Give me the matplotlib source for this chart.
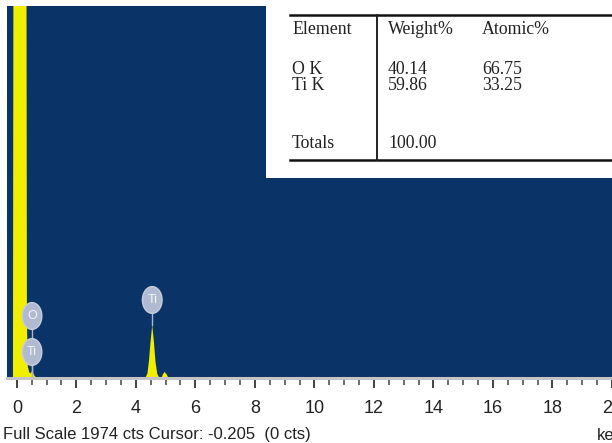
import matplotlib
matplotlib.use("Agg")
import matplotlib.pyplot as plt
from matplotlib.ticker import MultipleLocator
from matplotlib.patches import Ellipse

# EDS spectrum outline (energy in keV, counts)
energy_kev = [-0.33, -0.13, -0.11, 0.32, 0.34, 0.37, 0.42, 0.47, 0.52, 0.58, 0.66,
              4.32, 4.39, 4.44, 4.49, 4.55, 4.61, 4.66, 4.72, 4.79,
              4.86, 4.91, 4.97, 5.03, 5.10, 19.98]
counts = [0, 0, 2700, 2700, 300, 60, 30, 25, 40, 15, 0,
          0, 25, 90, 185, 281, 185, 85, 22, 0,
          0, 20, 32, 20, 0, 0]

full_scale = 1974
x_ticks = [0, 2, 4, 6, 8, 10, 12, 14, 16, 18, 20]

# Peak identification markers: (label, energy keV, marker height in counts, peak top)
marker_labels = ["O", "Ti", "Ti"]
marker_energy = [0.51, 0.51, 4.55]
marker_height = [329, 138, 414]
marker_floor = [0, 0, 281]

# Quantification table
elements = ["O K", "Ti K"]
weight_pct = ["40.14", "59.86"]
atomic_pct = ["66.75", "33.25"]
total_weight = "100.00"

W, H = 612, 443
fig = plt.figure(figsize=(W / 100, H / 100), dpi=100)
fig.patch.set_facecolor("white")

ax = fig.add_axes([7 / W, 65 / H, 605 / W, 372 / H])
ax.set_facecolor("#0a3468")
ax.set_xlim(-0.33, 19.98)
ax.set_ylim(0, full_scale)
ax.fill_between(energy_kev, counts, 0, color="#f2ee00", lw=0, zorder=2)

# marker bubbles with stems
bw, bh = 0.66, 142
for lab, e, hgt, fl in zip(marker_labels, marker_energy, marker_height, marker_floor):
    ax.plot([e, e], [fl, hgt - bh / 2], color="#aab6cc", lw=1.0, zorder=3)
    ax.add_patch(Ellipse((e, hgt), bw, bh, facecolor="#b0bbd1", edgecolor="#c6cedd",
                         lw=1.0, zorder=4))
    ax.text(e, hgt, lab, ha="center", va="center", fontsize=9, color="#f2f5fa",
            family="Liberation Sans", zorder=5)

for side in ("left", "right", "top"):
    ax.spines[side].set_visible(False)
ax.spines["bottom"].set_color("#c4c4c4")
ax.spines["bottom"].set_linewidth(2.2)
ax.set_yticks([])
ax.set_xticks(x_ticks)
ax.xaxis.set_minor_locator(MultipleLocator(0.5))
ax.tick_params(axis="x", which="major", direction="out", length=7, width=1.3,
               color="#333333", pad=9, labelsize=13, labelcolor="#222222")
ax.tick_params(axis="x", which="minor", direction="out", length=5, width=1.1,
               color="#444444")
for t in ax.get_xticklabels():
    t.set_family("Liberation Sans")

fig.text(3 / W, 1 - 435 / H, "Full Scale 1974 cts Cursor: -0.205  (0 cts)",
         ha="left", va="center", fontsize=12, color="#222222", family="Liberation Sans")
fig.text(597 / W, 1 - 435 / H, "keV", ha="left", va="center", fontsize=12,
         color="#222222", family="Liberation Sans")

# quantification table box
tab = fig.add_axes([266 / W, 1 - 178 / H, 346 / W, 178 / H])
tab.set_facecolor("white")
tab.set_xlim(266, 612)
tab.set_ylim(178, 0)
tab.set_xticks([])
tab.set_yticks([])
for s in tab.spines.values():
    s.set_visible(False)

tab.plot([290, 612], [15, 15], color="#111111", lw=1.8)
tab.plot([290, 612], [160, 160], color="#111111", lw=1.8)
tab.plot([377, 377], [15, 160], color="#222222", lw=1.4)

serif = dict(family="Liberation Serif", fontsize=12.8, color="#222222", va="center")
tab.text(292, 29, "Element", **serif)
tab.text(388, 29, "Weight%", **serif)
tab.text(482, 29, "Atomic%", **serif)
row_y = [69, 86]
for y, el, w, a in zip(row_y, elements, weight_pct, atomic_pct):
    tab.text(292, y, el, **serif)
    tab.text(388, y, w, **serif)
    tab.text(482, y, a, **serif)
tab.text(292, 143, "Totals", **serif)
tab.text(388, 143, total_weight, **serif)

fig.savefig("out.png", dpi=100, facecolor="white")
